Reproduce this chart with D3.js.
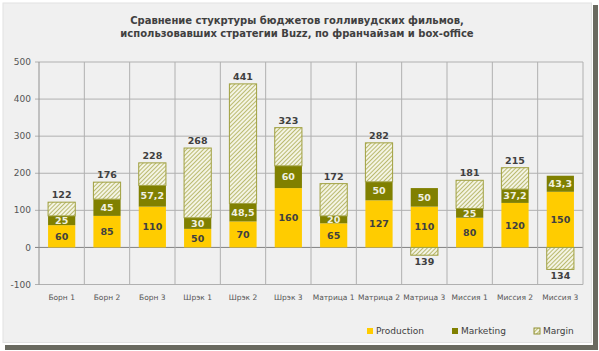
<!DOCTYPE html>
<html>
<head>
<meta charset="utf-8">
<script src="https://cdn.jsdelivr.net/npm/d3@7"></script>
<style>
  html, body { margin: 0; padding: 0; background: #fff; }
  svg { display: block; font-family: "DejaVu Sans", Verdana, sans-serif; }
</style>
</head>
<body>
<div id="chart"></div>
<script>
// Budget structure of Hollywood franchise films (Buzz strategy)
const categories = ["Борн 1", "Борн 2", "Борн 3", "Шрэк 1", "Шрэк 2", "Шрэк 3",
  "Матрица 1", "Матрица 2", "Матрица 3", "Миссия 1", "Миссия 2", "Миссия 3"];
const production = [60, 85, 110, 50, 70, 160, 65, 127, 110, 80, 120, 150];
const marketing = [25, 45, 57.2, 30, 48.5, 60, 20, 50, 50, 25, 37.2, 43.3];
const margin = [37, 46, 60.8, 188, 322.5, 103, 87, 105, -21, 76, 57.8, -59.3];
const boxOffice = [122, 176, 228, 268, 441, 323, 172, 282, 139, 181, 215, 134];
const yTicks = [-100, 0, 100, 200, 300, 400, 500];
const seriesNames = ["Production", "Marketing", "Margin"];

const width = 599, height = 351;
const plot = { left: 39, right: 583, top: 62, bottom: 284.5 };

const fmt = (v) => String(v).replace(".", ",");

const rows = categories.map((c, i) => ({
  name: c, Production: production[i], Marketing: marketing[i], Margin: margin[i], total: boxOffice[i]
}));

const stacked = d3.stack()
  .keys(seriesNames)
  .offset(d3.stackOffsetDiverging)(rows);

const x = d3.scaleBand()
  .domain(categories)
  .range([plot.left, plot.right])
  .paddingInner(0.4)
  .paddingOuter(0.2);

const y = d3.scaleLinear()
  .domain([-100, 500])
  .range([plot.bottom, plot.top]);

const colors = { Production: "#ffcc00", Marketing: "#808000", Margin: "url(#hatch)" };

const svg = d3.select("#chart").append("svg")
  .attr("width", width)
  .attr("height", height);

const defs = svg.append("defs");
const pat = defs.append("pattern")
  .attr("id", "hatch")
  .attr("patternUnits", "userSpaceOnUse")
  .attr("width", 3)
  .attr("height", 3)
  .attr("patternTransform", "rotate(45)");
pat.append("rect").attr("width", 3).attr("height", 3).attr("fill", "#f4f4e4");
pat.append("line").attr("x1", 0).attr("y1", 0).attr("x2", 0).attr("y2", 3)
  .attr("stroke", "#9a9a30").attr("stroke-width", 1.3);

// Frame with shadow
svg.append("rect").attr("x", 5).attr("y", 345).attr("width", 593).attr("height", 5).attr("fill", "#6a6a60");
svg.append("rect").attr("x", 593).attr("y", 5).attr("width", 5).attr("height", 345).attr("fill", "#6a6a60");
svg.append("rect").attr("x", 1).attr("y", 1).attr("width", 591).attr("height", 343).attr("fill", "#fff");
svg.append("rect").attr("x", 3).attr("y", 3).attr("width", 588.5).attr("height", 339.5)
  .attr("fill", "#f0f0f0").attr("stroke", "#e2e2e2").attr("stroke-width", 1);

// Title
const title = svg.append("text")
  .attr("text-anchor", "middle")
  .attr("font-size", 10)
  .attr("font-weight", "bold")
  .attr("fill", "#404040");
title.append("tspan").attr("x", 297).attr("y", 23.5).text("Сравнение стукртуры бюджетов голливудских фильмов,");
title.append("tspan").attr("x", 297).attr("y", 37).text("использовавших стратегии Buzz, по франчайзам и box-office");

// Grid
const g = svg.append("g");
yTicks.forEach((t) => {
  g.append("line")
    .attr("x1", plot.left - 4).attr("x2", plot.right)
    .attr("y1", y(t)).attr("y2", y(t))
    .attr("stroke", t === 0 ? "#808080" : "#b0b0b0")
    .attr("stroke-width", 1);
  g.append("text")
    .attr("x", plot.left - 8).attr("y", y(t)).attr("dy", "0.35em")
    .attr("text-anchor", "end")
    .attr("font-size", 9)
    .attr("fill", "#555")
    .text(t);
});
const step = x.step();
d3.range(categories.length + 1).forEach((i) => {
  const gx = plot.left + i * step;
  g.append("line")
    .attr("x1", gx).attr("x2", gx)
    .attr("y1", plot.top).attr("y2", plot.bottom)
    .attr("stroke", i === 0 ? "#909090" : "#b0b0b0")
    .attr("stroke-width", 1);
});

// Bars
stacked.forEach((s) => {
  svg.append("g").selectAll("rect")
    .data(s)
    .join("rect")
    .attr("x", (d) => x(d.data.name))
    .attr("width", x.bandwidth())
    .attr("y", (d) => y(Math.max(d[0], d[1])))
    .attr("height", (d) => Math.abs(y(d[0]) - y(d[1])))
    .attr("fill", colors[s.key])
    .attr("stroke", s.key === "Margin" ? "#a0a040" : "none")
    .attr("stroke-width", 1);
});

// Segment labels (production, marketing)
stacked.slice(0, 2).forEach((s) => {
  svg.append("g").selectAll("text")
    .data(s)
    .join("text")
    .attr("x", (d) => x(d.data.name) + x.bandwidth() / 2)
    .attr("y", (d) => y((d[0] + d[1]) / 2))
    .attr("dy", "0.36em")
    .attr("text-anchor", "middle")
    .attr("font-size", 9.5)
    .attr("font-weight", "bold")
    .attr("fill", s.key === "Production" ? "#404040" : "#f0f0e0")
    .text((d) => fmt(d.data[s.key]));
});

// Box-office totals
svg.append("g").selectAll("text")
  .data(rows)
  .join("text")
  .attr("x", (d) => x(d.name) + x.bandwidth() / 2)
  .attr("y", (d) => d.Margin < 0 ? y(d.Margin) + 10 : y(d.Production + d.Marketing + Math.max(d.Margin, 0)) - 4)
  .attr("text-anchor", "middle")
  .attr("font-size", 9.5)
  .attr("font-weight", "bold")
  .attr("fill", "#404040")
  .text((d) => d.total);

// Category labels
svg.append("g").selectAll("text")
  .data(categories)
  .join("text")
  .attr("x", (d) => x(d) + x.bandwidth() / 2)
  .attr("y", 300)
  .attr("text-anchor", "middle")
  .attr("font-size", 7.5)
  .attr("fill", "#555")
  .text((d) => d);

// Legend
const legendX = [367, 452, 534];
seriesNames.forEach((n, i) => {
  svg.append("rect")
    .attr("x", legendX[i]).attr("y", 328)
    .attr("width", 6).attr("height", 6)
    .attr("fill", colors[n])
    .attr("stroke", n === "Margin" ? "#909030" : "none");
  svg.append("text")
    .attr("x", legendX[i] + 9).attr("y", 331).attr("dy", "0.35em")
    .attr("font-size", 9)
    .attr("fill", "#404040")
    .text(n);
});
</script>
</body>
</html>
